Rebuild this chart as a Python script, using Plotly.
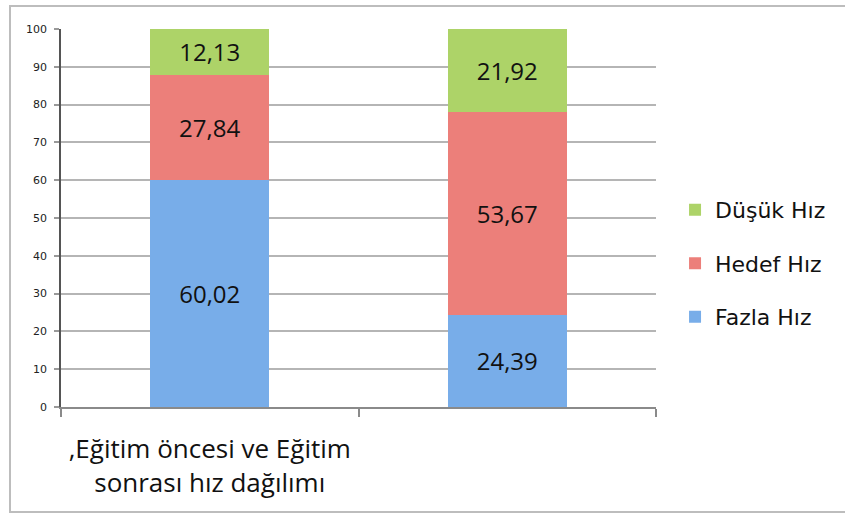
import plotly.graph_objects as go

categories = [",Eğitim öncesi ve Eğitim<br>sonrası hız dağılımı", " "]
series_names = ["Fazla Hız", "Hedef Hız", "Düşük Hız"]
fazla = [60.02, 24.39]
hedef = [27.84, 53.67]
dusuk = [12.13, 21.92]
y_ticks = [0, 10, 20, 30, 40, 50, 60, 70, 80, 90, 100]

colors = ["#78ade9", "#ec7f7a", "#add368"]
ranks = [3, 2, 1]
FONT = "Open Sans"

fig = go.Figure()
for i, (name, vals) in enumerate(zip(series_names, [fazla, hedef, dusuk])):
    fig.add_trace(go.Bar(
        name=name, x=categories, y=vals,
        marker=dict(color=colors[i], line=dict(width=0)),
        texttemplate="%{y:.2f}", textposition="inside", insidetextanchor="middle",
        textfont=dict(size=24, color="#111", family=FONT),
        legendgroup=name, legendrank=ranks[i],
    ))

fig.update_layout(
    barmode="stack", bargap=0.6, separators=",.",
    width=845, height=513,
    margin=dict(l=61, r=189, t=29, b=106),
    paper_bgcolor="white", plot_bgcolor="white",
    font=dict(family=FONT, color="#222"),
    legend=dict(x=1.032, xanchor="left", y=0.38, yanchor="middle",
                traceorder="grouped", tracegroupgap=22,
                font=dict(size=22, color="#111", family="DejaVu Sans"), itemwidth=30),
    xaxis=dict(showgrid=False, showline=True, linecolor="#8a8a8a", linewidth=2,
               ticks="outside", tickson="boundaries", ticklen=8, tickcolor="#8a8a8a",
               tickwidth=2, ticklabelstandoff=18,
               tickfont=dict(size=26, color="#111", family=FONT)),
    yaxis=dict(range=[0, 100], tickvals=y_ticks, showgrid=True, gridcolor="#b5b5b5",
               gridwidth=2, showline=True, linecolor="#555", linewidth=1.5,
               ticks="outside", ticklen=5, tickcolor="#999", tickwidth=2,
               ticklabelstandoff=5,
               tickfont=dict(size=11, color="#222", family="DejaVu Sans"), zeroline=False),
    shapes=[dict(type="rect", xref="paper", yref="paper",
                 x0=-0.0857, x1=1.4, y0=-0.278, y1=1.061,
                 line=dict(color="#bdbdbd", width=2), layer="below")],
)

fig.write_html("out.html")
